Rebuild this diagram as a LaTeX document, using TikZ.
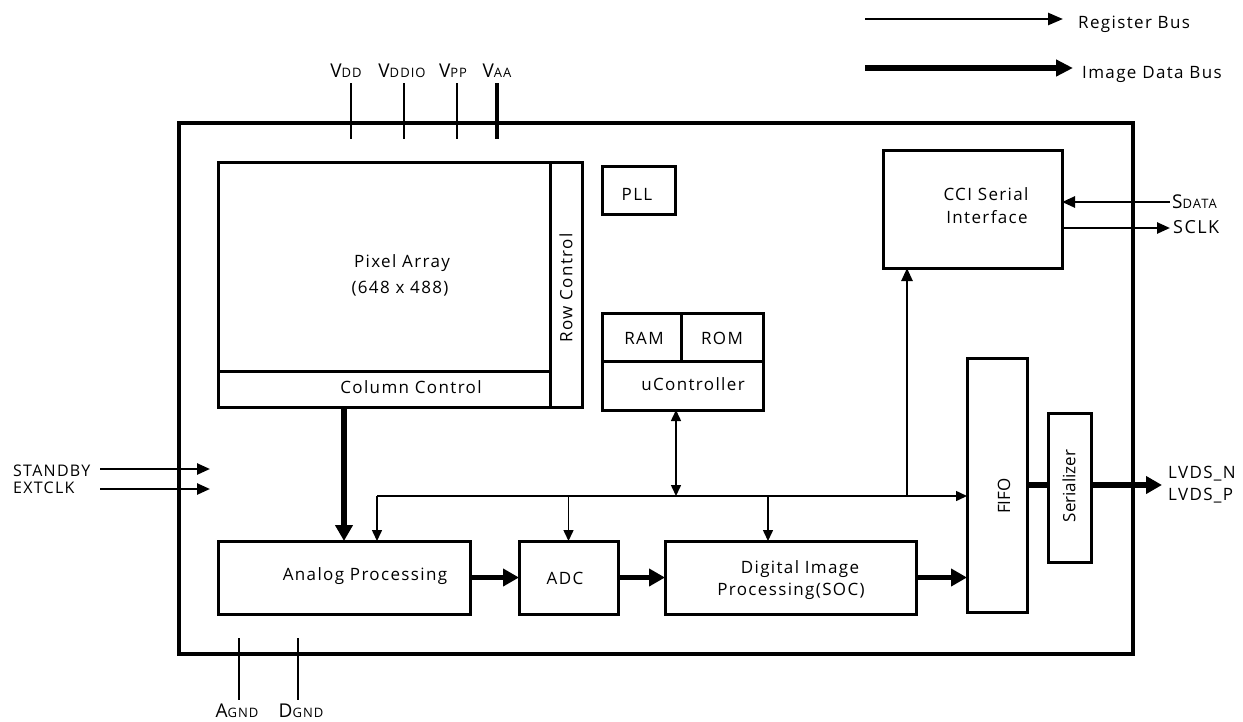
\documentclass[tikz,border=0pt]{standalone}
\usepackage{fontspec}
\setmainfont{Open Sans}[LetterSpace=8]
\newfontfamily\plainfont{Open Sans}
\usetikzlibrary{arrows.meta}
\begin{document}
\begin{tikzpicture}[x=1pt,y=-1pt,
  blk/.style={draw, line width=3pt, inner sep=0pt, outer sep=0pt},
  txt/.style={font=\fontsize{17}{20}\selectfont, inner sep=0pt},
  ptxt/.style={font=\plainfont\fontsize{17}{20}\selectfont, inner sep=0pt},
  img/.style={line width=5.5pt, -{Triangle[length=16pt,width=17pt]}},
  reg/.style={line width=1.5pt, -{Triangle[length=11pt,width=10pt]}},
  regb/.style={line width=1.5pt, {Triangle[length=11pt,width=10pt]}-{Triangle[length=11pt,width=10pt]}},
  sig/.style={line width=2.5pt, -{Triangle[length=13pt,width=11pt]}},
  pin/.style={line width=2.5pt}]
\useasboundingbox (0,0) rectangle (1243,721);

% chip outline
\node[blk, line width=4pt, minimum width=954pt, minimum height=531pt] (chip) at (656,388.5) {};

% blocks
\node[blk, minimum width=332pt, minimum height=209pt] (pix) at (384,266.5) {};
\node[blk, minimum width=332pt, minimum height=36pt] (col) at (384,389) {};
\node[blk, minimum width=32pt, minimum height=245pt] (row) at (566,284.5) {};
\node[blk, minimum width=73pt, minimum height=48pt] (pll) at (638.5,190) {};
\node[blk, minimum width=79pt, minimum height=48pt] (ram) at (641.5,337) {};
\node[blk, minimum width=82pt, minimum height=48pt] (rom) at (722,337) {};
\node[blk, minimum width=161pt, minimum height=49pt] (uctl) at (682.5,385.5) {};
\node[blk, minimum width=179pt, minimum height=118pt] (cci) at (972.5,209) {};
\node[blk, minimum width=60pt, minimum height=254pt] (fifo) at (997,485) {};
\node[blk, minimum width=43pt, minimum height=149pt] (ser) at (1069.5,487.5) {};
\node[blk, minimum width=252pt, minimum height=73pt] (ana) at (344,577.5) {};
\node[blk, minimum width=99pt, minimum height=73pt] (adc) at (568.5,577.5) {};
\node[blk, minimum width=251pt, minimum height=73pt] (dip) at (790.5,577.5) {};

% block texts
\node[txt, anchor=base] (tpix1) at (402,267) {Pixel Array};
\node[txt, anchor=base] (tpix2) at (400,293) {(648 x 488)};
\node[txt, anchor=base] (tcol) at (411,393) {Column Control};
\node[txt, rotate=90] (trow) at (566,288) {Row Control};
\node[txt, anchor=base] (tpll) at (637,200) {PLL};
\node[txt, anchor=base] (tram) at (644,344) {RAM};
\node[txt, anchor=base] (trom) at (722,344) {ROM};
\node[txt, anchor=base] (tuc) at (693,390) {uController};
\node[txt, anchor=base] (tcci1) at (986,200) {CCI Serial};
\node[txt, anchor=base] (tcci2) at (987,223) {Interface};
\node[txt, anchor=base] (tana) at (365,580) {Analog Processing};
\node[txt, anchor=base] (tadc) at (565,584) {ADC};
\node[txt, anchor=base] (tdip1) at (800,573) {Digital Image};
\node[txt, anchor=base] (tdip2) at (791,595) {Processing(SOC)};
\node[ptxt, rotate=90] (tfifo) at (1004,496) {FIFO};
\node[ptxt, rotate=90] (tser) at (1069,486) {Serializer};

% image data path
\draw[img] (ana.north |- col.south) -- (ana.north);
\draw[img] (ana.east) -- (adc.west);
\draw[img] (adc.east) -- (dip.west);
\draw[img] (dip.east) -- (dip.east -| fifo.west);
\draw[line width=5.5pt] (fifo.east) -- (fifo.east -| ser.west);
\coordinate (lvds) at (1162,485);
\draw[img] (ser.east |- lvds) -- (lvds);

% register bus
\coordinate (busL) at (377,496);
\coordinate (uTap) at (676,496);
\coordinate (dTap) at (768,496);
\coordinate (cTap) at (907,496);
\draw[reg] (busL) -- (busL -| fifo.west);
\draw[reg] (busL) -- (busL |- ana.north);
\draw[reg] (adc.north |- busL) -- (adc.north);
\draw[reg] (dTap) -- (dTap |- dip.north);
\draw[regb] (uTap |- uctl.south) -- (uTap);
\draw[sig] (cTap) -- (cTap |- cci.south);

% serial interface pins
\coordinate (sdata) at (1170,202);
\coordinate (sclk) at (1170,228);
\draw[sig] (sdata) -- (sdata -| cci.east);
\draw[sig] (sclk -| cci.east) -- (sclk);
\node[anchor=base west, inner sep=0pt] (lsdata) at (1172,208) {\fontsize{19}{20}\selectfont S\fontsize{13}{14}\selectfont DATA};
\node[anchor=base west, inner sep=0pt] (lsclk) at (1173,233) {\fontsize{18}{20}\selectfont SCLK};

% LVDS labels
\node[txt, anchor=base west] (llvn) at (1168,478) {\fontsize{17}{20}\selectfont LVDS\_N};
\node[txt, anchor=base west] (llvp) at (1168,500) {\fontsize{17}{20}\selectfont LVDS\_P};

% standby / extclk
\coordinate (sb1) at (100,469);
\coordinate (sb2) at (210,469);
\coordinate (ec1) at (100,489);
\coordinate (ec2) at (210,489);
\draw[sig] (sb1) -- (sb2);
\draw[sig] (ec1) -- (ec2);
\node[anchor=base west, inner sep=0pt] (lsb) at (13,476) {\fontsize{16}{18}\selectfont STANDBY};
\node[anchor=base west, inner sep=0pt] (lec) at (13,493) {\fontsize{16}{18}\selectfont EXTCLK};

% supply pins
\coordinate (vdd1) at (351,83);   \coordinate (vdd2) at (351,139);
\coordinate (vio1) at (404,83);   \coordinate (vio2) at (404,139);
\coordinate (vpp1) at (457,83);   \coordinate (vpp2) at (457,139);
\coordinate (vaa1) at (497,83);   \coordinate (vaa2) at (497,139);
\draw[pin] (vdd1) -- (vdd2);
\draw[pin] (vio1) -- (vio2);
\draw[pin] (vpp1) -- (vpp2);
\draw[pin, line width=4pt] (vaa1) -- (vaa2);
\node[anchor=base, inner sep=0pt] (lvdd) at (346,77) {\fontsize{19}{20}\selectfont V\fontsize{13}{14}\selectfont DD};
\node[anchor=base, inner sep=0pt] (lvio) at (402,77) {\fontsize{19}{20}\selectfont V\fontsize{13}{14}\selectfont DDIO};
\node[anchor=base, inner sep=0pt] (lvpp) at (453,77) {\fontsize{19}{20}\selectfont V\fontsize{13}{14}\selectfont PP};
\node[anchor=base, inner sep=0pt] (lvaa) at (497,77) {\fontsize{19}{20}\selectfont V\fontsize{13}{14}\selectfont AA};

% ground pins
\coordinate (ag1) at (239,638);  \coordinate (ag2) at (239,700);
\coordinate (dg1) at (298,638);  \coordinate (dg2) at (298,700);
\draw[pin] (ag1) -- (ag2);
\draw[pin] (dg1) -- (dg2);
\node[anchor=base, inner sep=0pt] (lag) at (237,717) {\fontsize{19}{20}\selectfont A\fontsize{13}{14}\selectfont GND};
\node[anchor=base, inner sep=0pt] (ldg) at (301,717) {\fontsize{19}{20}\selectfont D\fontsize{13}{14}\selectfont GND};

% legend
\coordinate (lr1) at (865,19);  \coordinate (lr2) at (1063,19);
\coordinate (li1) at (865,68);  \coordinate (li2) at (1073,68);
\draw[line width=2.5pt, -{Triangle[length=15pt,width=12pt]}] (lr1) -- (lr2);
\draw[line width=6pt, -{Triangle[length=17pt,width=16pt]}] (li1) -- (li2);
\node[txt, anchor=base west] (lreg) at (1078,28) {Register Bus};
\node[txt, anchor=base west] (limg) at (1082,78) {Image Data Bus};
\end{tikzpicture}
\end{document}
